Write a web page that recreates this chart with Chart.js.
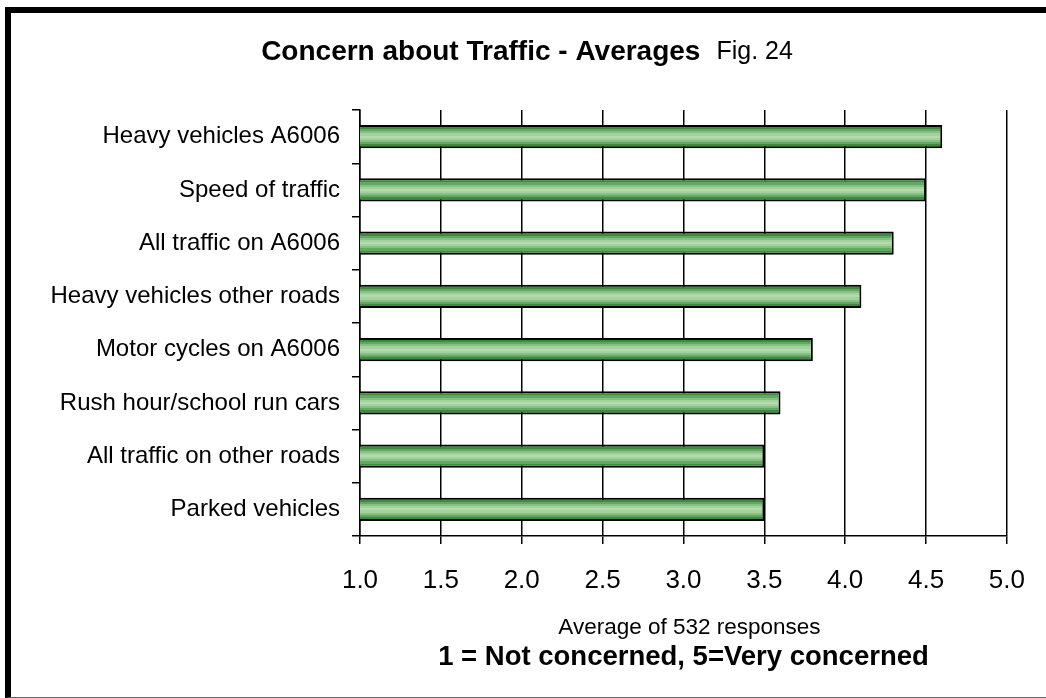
<!DOCTYPE html>
<html>
<head>
<meta charset="utf-8">
<script src="https://cdn.jsdelivr.net/npm/chart.js@4"></script>
<style>
  html, body { margin: 0; padding: 0; background: #fff; }
  #wrap { position: relative; width: 1046px; height: 698px; overflow: hidden; }
  #wrap canvas { position: absolute; left: 0; top: 0; }
  #frame { position: absolute; left: 5px; top: 7px; width: 1041px; height: 691px; box-sizing: border-box;
           border-left: 6px solid #000; border-top: 6px solid #000; border-bottom: 1px solid #666; pointer-events: none; }
</style>
</head>
<body>
<div id="wrap">
  <canvas id="c" width="1046" height="698"></canvas>
  <div id="frame"></div>
</div>
<script>
const categories = [
  "Heavy vehicles A6006",
  "Speed of traffic",
  "All traffic on A6006",
  "Heavy vehicles other roads",
  "Motor cycles on A6006",
  "Rush hour/school run cars",
  "All traffic on other roads",
  "Parked vehicles"
];
const averages = [4.6, 4.5, 4.3, 4.1, 3.8, 3.6, 3.5, 3.5];
const xTicks = [1.0, 1.5, 2.0, 2.5, 3.0, 3.5, 4.0, 4.5, 5.0];
const titleBold = "Concern about Traffic - Averages";
const titleNormal = "Fig. 24";
const axisTitle1 = "Average of 532 responses";
const axisTitle2 = "1 = Not concerned, 5=Very concerned";

const FONT = "'Liberation Sans', Arial, sans-serif";
const BAR_PCT = 0.44;

function barGradient(ctx) {
  const chart = ctx.chart;
  const area = chart.chartArea;
  if (!area) return '#6aaa6a';
  const ys = chart.scales.y;
  const yc = ys.getPixelForValue(ctx.dataIndex);
  const h = (area.bottom - area.top) / categories.length * BAR_PCT;
  const g = chart.ctx.createLinearGradient(0, yc - h / 2, 0, yc + h / 2);
  const bands = ['#1f6b22', '#3d8c3e', '#62a862', '#86c083', '#a4d29e', '#b3dbad', '#a4d29e', '#86c083', '#62a862', '#3d8c3e', '#1f6b22'];
  const n = bands.length;
  bands.forEach((c, i) => {
    g.addColorStop(i / n, c);
    g.addColorStop((i + 1) / n - 0.0001, c);
  });
  return g;
}

const textPlugin = {
  id: 'texts',
  afterDraw(chart) {
    const c = chart.ctx;
    c.save();
    c.fillStyle = '#000';
    c.textBaseline = 'middle';
    // title
    const gap = 16;
    c.font = "bold 28px " + FONT;
    const wb = c.measureText(titleBold).width;
    c.font = "25px " + FONT;
    const wn = c.measureText(titleNormal).width;
    let x0 = 527 - (wb + gap + wn) / 2;
    c.textAlign = 'left';
    c.font = "bold 28px " + FONT;
    c.fillText(titleBold, x0, 52);
    c.font = "25px " + FONT;
    c.fillText(titleNormal, x0 + wb + gap, 52);
    // axis titles
    const a = chart.chartArea;
    const cx = (a.left + a.right) / 2;
    c.textAlign = 'center';
    c.font = "22.5px " + FONT;
    c.fillText(axisTitle1, cx + 6, 628);
    c.font = "bold 27.5px " + FONT;
    c.fillText(axisTitle2, cx, 657);
    c.restore();
  }
};

new Chart(document.getElementById('c'), {
  type: 'bar',
  data: {
    labels: categories,
    datasets: [{
      data: averages,
      backgroundColor: barGradient,
      borderColor: '#000',
      borderWidth: 2,
      borderSkipped: false,
      barPercentage: BAR_PCT,
      categoryPercentage: 1.0
    }]
  },
  options: {
    indexAxis: 'y',
    responsive: false,
    animation: false,
    devicePixelRatio: 1,
    layout: { padding: { left: 0, right: 38, top: 110, bottom: 0 } },
    plugins: { legend: { display: false }, tooltip: { enabled: false }, title: { display: false } },
    scales: {
      x: {
        type: 'linear',
        min: 1, max: 5,
        afterBuildTicks(scale) { scale.ticks = xTicks.map(v => ({ value: v })); },
        afterFit(scale) { scale.height = 698 - 536; },
        ticks: {
          color: '#000',
          font: { family: FONT, size: 26 },
          padding: 21,
          maxRotation: 0,
          callback: v => Number(v).toFixed(1)
        },
        grid: { color: '#000', lineWidth: 1.5, tickLength: 8, drawOnChartArea: true, drawTicks: true },
        border: { display: true, color: '#000', width: 1.5 }
      },
      y: {
        afterFit(scale) { scale.width = 360; },
        ticks: {
          color: '#000',
          font: { family: FONT, size: 24 },
          padding: 12
        },
        grid: { color: '#000', lineWidth: 1.5, tickLength: 8, drawOnChartArea: false, drawTicks: true, offset: true },
        border: { display: true, color: '#000', width: 1.5 }
      }
    }
  },
  plugins: [textPlugin]
});
</script>
</body>
</html>
